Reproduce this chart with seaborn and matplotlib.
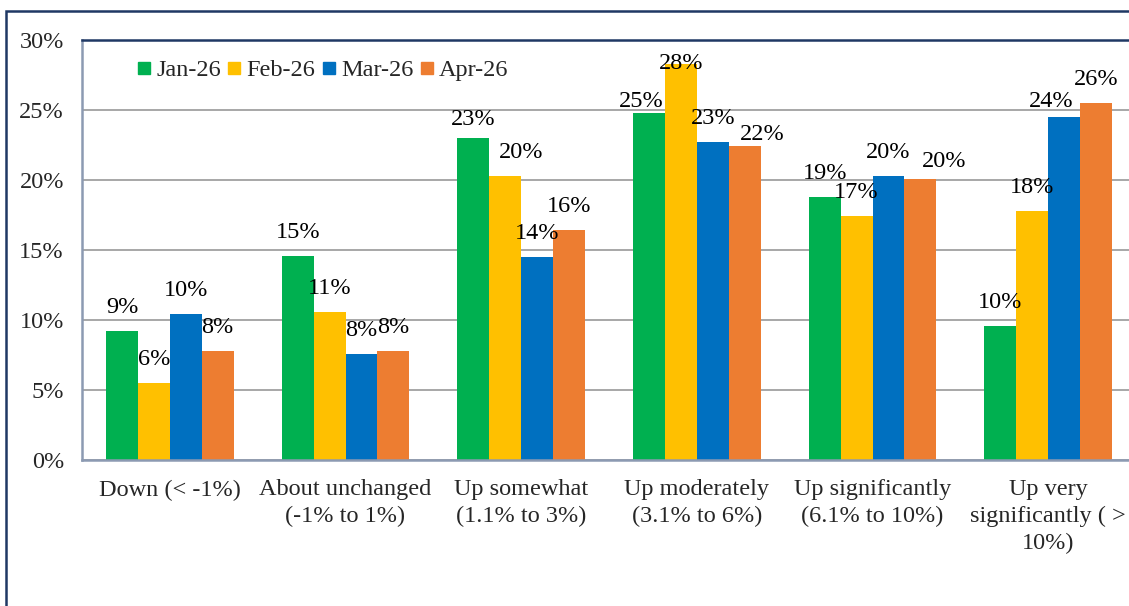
import numpy as np
import pandas as pd
import seaborn as sns
import matplotlib.pyplot as plt
from matplotlib.lines import Line2D
from matplotlib.patches import Rectangle
from matplotlib.ticker import FuncFormatter

# DATOS
categorias = ["Down", "About unchanged", "Up somewhat", "Up moderately",
              "Up significantly", "Up very significantly"]
etiquetas_x = ["Down (< -1%)", "About unchanged\n(-1% to 1%)", "Up somewhat\n(1.1% to 3%)",
               "Up moderately\n(3.1% to 6%)", "Up significantly\n(6.1% to 10%)",
               "Up very\nsignificantly ( >\n10%)"]
meses = ["Jan-26", "Feb-26", "Mar-26", "Apr-26"]
jan_26 = [9.2, 14.6, 23.0, 24.8, 18.8, 9.6]
feb_26 = [5.5, 10.6, 20.3, 28.3, 17.4, 17.8]
mar_26 = [10.4, 7.6, 14.5, 22.7, 20.3, 24.5]
apr_26 = [7.8, 7.8, 16.4, 22.4, 20.1, 25.5]
etiquetas_valor = {
    "Jan-26": ["9%", "15%", "23%", "25%", "19%", "10%"],
    "Feb-26": ["6%", "11%", "20%", "28%", "17%", "18%"],
    "Mar-26": ["10%", "8%", "14%", "23%", "20%", "24%"],
    "Apr-26": ["8%", "8%", "16%", "22%", "20%", "26%"],
}

colores = ["#00B050", "#FFC000", "#0070C0", "#ED7D31"]
navy = "#1F3864"
gris_eje = "#8C9AB2"
fs = 17.5

# ajustes de posicion de algunas etiquetas (px: dx, separacion sobre la barra)
ajustes = {
    ("Jan-26", 2): (0, 13),
    ("Feb-26", 2): (16, 18),
    ("Jan-26", 3): (-8, 6),
    ("Feb-26", 3): (0, -5),
    ("Apr-26", 3): (18, 6),
    ("Apr-26", 4): (24, 12),
    ("Mar-26", 5): (-13, 10),
}

df = pd.DataFrame({
    "categoria": categorias * 4,
    "mes": np.repeat(meses, len(categorias)),
    "valor": jan_26 + feb_26 + mar_26 + apr_26,
})

sns.set_style("white")
plt.rcParams["font.family"] = ["Liberation Serif", "DejaVu Serif"]
plt.rcParams["font.size"] = fs

fig = plt.figure(figsize=(11.29, 6.06), dpi=100)
ax = fig.add_axes([82 / 1129, 146 / 606, 1054 / 1129, 420 / 606])

sns.barplot(data=df, x="categoria", y="valor", hue="mes", order=categorias,
            hue_order=meses, palette=colores, width=0.725, saturation=1,
            errorbar=None, legend=False, ax=ax, linewidth=0)

ax.set_ylim(0, 30)
ax.set_xlim(-0.5, 5.5)
ax.set_yticks(range(0, 31, 5))
ax.yaxis.set_major_formatter(FuncFormatter(lambda v, p: f"{int(v)}%"))
ax.grid(axis="y", color="#A0A0A0", linewidth=1.3)
ax.set_axisbelow(True)
ax.set_xlabel("")
ax.set_ylabel("")

ax.set_xticks(range(len(categorias)))
ax.set_xticklabels(etiquetas_x, fontsize=fs, linespacing=1.35, va="top")
ax.set_xticks(np.arange(-0.5, 6, 1), minor=True)
ax.tick_params(axis="x", which="major", length=0, pad=14)
ax.tick_params(axis="x", which="minor", length=5, width=1.3, color=gris_eje, direction="out")
ax.tick_params(axis="y", length=4, width=1.3, color=gris_eje, pad=9, labelsize=fs)

for lado in ["left", "bottom"]:
    ax.spines[lado].set_color(gris_eje)
    ax.spines[lado].set_linewidth(1.8)
ax.spines["top"].set_color(navy)
ax.spines["top"].set_linewidth(1.8)
ax.spines["right"].set_visible(False)

# etiquetas de valores
for mes, cont in zip(meses, ax.containers):
    for i, barra in enumerate(cont):
        dx, gap = ajustes.get((mes, i), (0, 18))
        x = barra.get_x() + barra.get_width() / 2
        ax.annotate(etiquetas_valor[mes][i], (x, barra.get_height()),
                    xytext=(dx * 0.72, gap * 0.72), textcoords="offset points",
                    ha="center", va="baseline", fontsize=fs, color="black",
                    annotation_clip=False)

# leyenda
handles = [Line2D([], [], marker="s", linestyle="", markersize=8.5,
                  markerfacecolor=c, markeredgecolor=c) for c in colores]
ax.legend(handles, meses, loc="center left", bbox_to_anchor=(0.052, 0.928),
          ncol=4, frameon=False, fontsize=fs, handlelength=0.6,
          handletextpad=0.2, columnspacing=0.25, borderpad=0, borderaxespad=0)

# marco exterior
fig.patches.append(Rectangle((6 / 1129, -0.2), 1.2, 1.2 - 11 / 606,
                             transform=fig.transFigure, fill=False,
                             edgecolor=navy, linewidth=1.8, clip_on=False))

fig.savefig("out.png", dpi=100)
